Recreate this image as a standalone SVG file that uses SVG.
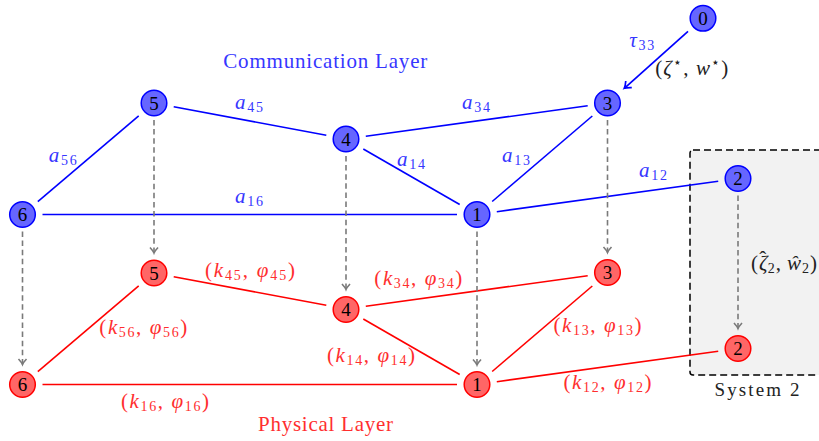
<svg xmlns="http://www.w3.org/2000/svg" width="819" height="441" viewBox="0 0 819 441">
<defs>
<style>
.t{font-family:"Liberation Serif","DejaVu Serif",serif;font-size:21px;text-anchor:middle}
.i{font-style:italic}
.s{font-size:14px;font-style:normal}
.bl{fill:#3636ff}
.rl{fill:#ff2e2e}
.k{fill:#222}
.eb{stroke:#0000ff;stroke-width:1.6;fill:none}
.er{stroke:#ff0000;stroke-width:1.6;fill:none}
.g{stroke:#7a7a7a;stroke-width:1.6;stroke-dasharray:5.5 3.6;fill:none;marker-end:url(#ag)}
.nb{fill:#6666ff;stroke:#0000ff;stroke-width:1.5}
.nr{fill:#ff6666;stroke:#ff0000;stroke-width:1.5}
.n{font-family:"Liberation Serif","DejaVu Serif",serif;font-size:19px;text-anchor:middle;fill:#000}
</style>
<marker id="ag" markerUnits="userSpaceOnUse" markerWidth="14" markerHeight="14" viewBox="-7 -7 14 14" refX="0" refY="0" orient="auto">
<path d="M-5.5,-4 Q-2,-0.8 0,0 Q-2,0.8 -5.5,4" fill="none" stroke="#7a7a7a" stroke-width="1.6"/>
</marker>
<marker id="ab" markerUnits="userSpaceOnUse" markerWidth="14" markerHeight="14" viewBox="-7 -7 14 14" refX="0" refY="0" orient="auto">
<path d="M-6,-4.5 Q-2.2,-0.9 0,0 Q-2.2,0.9 -6,4.5" fill="none" stroke="#0000ff" stroke-width="1.7"/>
</marker>
</defs>
<rect id="system2" x="690" y="150" width="140" height="225" rx="3" fill="#f2f2f2" stroke="#000" stroke-width="1.5" stroke-dasharray="7 4"/>
<g id="connectors">
<line class="eb" x1="37.8" y1="201.6" x2="138.7" y2="115.9"/>
<line class="eb" x1="173.7" y1="106.7" x2="326.3" y2="135.3"/>
<line class="eb" x1="42.5" y1="214.5" x2="457" y2="214.5"/>
<line class="eb" x1="363.3" y1="149" x2="459.7" y2="204.5"/>
<line class="eb" x1="365.8" y1="136.3" x2="587.7" y2="105.7"/>
<line class="eb" x1="492.2" y1="201.5" x2="592.3" y2="116"/>
<line class="eb" x1="496.8" y1="211.7" x2="718.2" y2="181.3"/>
<line class="er" x1="37.8" y1="371.6" x2="138.7" y2="285.9"/>
<line class="er" x1="173.7" y1="276.7" x2="326.3" y2="305.3"/>
<line class="er" x1="42.5" y1="384.5" x2="457" y2="384.5"/>
<line class="er" x1="363.3" y1="319" x2="459.7" y2="374.5"/>
<line class="er" x1="365.8" y1="306.3" x2="587.7" y2="275.7"/>
<line class="er" x1="492.2" y1="371.5" x2="592.3" y2="286"/>
<line class="er" x1="496.8" y1="381.7" x2="718.2" y2="351.3"/>
<line class="g" x1="22.5" y1="231.5" x2="22.5" y2="364.5"/>
<line class="g" x1="154" y1="120" x2="154" y2="253"/>
<line class="g" x1="346" y1="156" x2="346" y2="289.5"/>
<line class="g" x1="477" y1="231.5" x2="477" y2="365"/>
<line class="g" x1="607.5" y1="120" x2="607.5" y2="252.5"/>
<line class="g" x1="738" y1="195.5" x2="738" y2="328.5"/>
<line x1="688" y1="31.3" x2="624.3" y2="88.3" stroke="#0000ff" stroke-width="1.7" marker-end="url(#ab)"/>
</g>
<g id="labels" font-family="Liberation Serif, DejaVu Serif, serif">
<text class="t bl" x="325.3" y="68" textLength="204" lengthAdjust="spacing">Communication Layer</text>
<text class="t rl" x="325.5" y="431" textLength="135" lengthAdjust="spacing">Physical Layer</text>
<text class="t k" x="757" y="396" style="font-size:19px" textLength="85" lengthAdjust="spacing">System 2</text>
<text class="t bl" x="62.7" y="162" textLength="28" lengthAdjust="spacing"><tspan class="i">a</tspan><tspan class="s" dy="3">56</tspan></text>
<text class="t bl" x="249" y="109" textLength="28" lengthAdjust="spacing"><tspan class="i">a</tspan><tspan class="s" dy="3">45</tspan></text>
<text class="t bl" x="249" y="203" textLength="28" lengthAdjust="spacing"><tspan class="i">a</tspan><tspan class="s" dy="3">16</tspan></text>
<text class="t bl" x="476" y="109" textLength="28" lengthAdjust="spacing"><tspan class="i">a</tspan><tspan class="s" dy="3">34</tspan></text>
<text class="t bl" x="411" y="166" textLength="28" lengthAdjust="spacing"><tspan class="i">a</tspan><tspan class="s" dy="3">14</tspan></text>
<text class="t bl" x="516" y="162" textLength="28" lengthAdjust="spacing"><tspan class="i">a</tspan><tspan class="s" dy="3">13</tspan></text>
<text class="t bl" x="653" y="177" textLength="28" lengthAdjust="spacing"><tspan class="i">a</tspan><tspan class="s" dy="3">12</tspan></text>
<text class="t bl" x="641.7" y="47" textLength="25" lengthAdjust="spacing"><tspan class="i">τ</tspan><tspan class="s" dy="3">33</tspan></text>
<text class="t k" x="691.7" y="75" textLength="73" lengthAdjust="spacing">(<tspan class="i">ζ</tspan><tspan class="s" dy="-8">⋆</tspan><tspan dy="8">, </tspan><tspan class="i">w</tspan><tspan class="s" dy="-8">⋆</tspan><tspan dy="8">)</tspan></text>
<text class="t k" x="784" y="270">(<tspan class="i" dx="1">ζ</tspan><tspan dx="-8.5" dy="-4.5">ˆ</tspan><tspan class="s" dx="1.5" dy="7.5">2</tspan><tspan dx="1" dy="-3">,</tspan><tspan class="i" dx="6">ŵ</tspan><tspan class="s" dx="1" dy="3">2</tspan><tspan dx="1" dy="-3">)</tspan></text>
<text class="t rl" x="250" y="277" textLength="90" lengthAdjust="spacing">(<tspan class="i">k</tspan><tspan class="s" dy="3">45</tspan><tspan dy="-3">, </tspan><tspan class="i">φ</tspan><tspan class="s" dy="3">45</tspan><tspan dy="-3">)</tspan></text>
<text class="t rl" x="143.3" y="334" textLength="88" lengthAdjust="spacing">(<tspan class="i">k</tspan><tspan class="s" dy="3">56</tspan><tspan dy="-3">, </tspan><tspan class="i">φ</tspan><tspan class="s" dy="3">56</tspan><tspan dy="-3">)</tspan></text>
<text class="t rl" x="165" y="408" textLength="88" lengthAdjust="spacing">(<tspan class="i">k</tspan><tspan class="s" dy="3">16</tspan><tspan dy="-3">, </tspan><tspan class="i">φ</tspan><tspan class="s" dy="3">16</tspan><tspan dy="-3">)</tspan></text>
<text class="t rl" x="371" y="362" textLength="88" lengthAdjust="spacing">(<tspan class="i">k</tspan><tspan class="s" dy="3">14</tspan><tspan dy="-3">, </tspan><tspan class="i">φ</tspan><tspan class="s" dy="3">14</tspan><tspan dy="-3">)</tspan></text>
<text class="t rl" x="418.3" y="285" textLength="88" lengthAdjust="spacing">(<tspan class="i">k</tspan><tspan class="s" dy="3">34</tspan><tspan dy="-3">, </tspan><tspan class="i">φ</tspan><tspan class="s" dy="3">34</tspan><tspan dy="-3">)</tspan></text>
<text class="t rl" x="597.5" y="332" textLength="88" lengthAdjust="spacing">(<tspan class="i">k</tspan><tspan class="s" dy="3">13</tspan><tspan dy="-3">, </tspan><tspan class="i">φ</tspan><tspan class="s" dy="3">13</tspan><tspan dy="-3">)</tspan></text>
<text class="t rl" x="607.5" y="389" textLength="88" lengthAdjust="spacing">(<tspan class="i">k</tspan><tspan class="s" dy="3">12</tspan><tspan dy="-3">, </tspan><tspan class="i">φ</tspan><tspan class="s" dy="3">12</tspan><tspan dy="-3">)</tspan></text>
</g>
<g id="node-b0"><circle class="nb" cx="703" cy="18.3" r="12.8"/><text class="n" x="703" y="24.8">0</text></g>
<g id="node-b1"><circle class="nb" cx="477" cy="214.5" r="12.8"/><text class="n" x="477" y="221">1</text></g>
<g id="node-b2"><circle class="nb" cx="738" cy="178.5" r="12.8"/><text class="n" x="738" y="185">2</text></g>
<g id="node-b3"><circle class="nb" cx="607.5" cy="103" r="12.8"/><text class="n" x="607.5" y="109.5">3</text></g>
<g id="node-b4"><circle class="nb" cx="346" cy="139" r="12.8"/><text class="n" x="346" y="145.5">4</text></g>
<g id="node-b5"><circle class="nb" cx="154" cy="103" r="12.8"/><text class="n" x="154" y="109.5">5</text></g>
<g id="node-b6"><circle class="nb" cx="22.5" cy="214.5" r="12.8"/><text class="n" x="22.5" y="221">6</text></g>
<g id="node-r1"><circle class="nr" cx="477" cy="384.5" r="12.8"/><text class="n" x="477" y="391">1</text></g>
<g id="node-r2"><circle class="nr" cx="738" cy="348.5" r="12.8"/><text class="n" x="738" y="355">2</text></g>
<g id="node-r3"><circle class="nr" cx="607.5" cy="272.5" r="12.8"/><text class="n" x="607.5" y="279">3</text></g>
<g id="node-r4"><circle class="nr" cx="346" cy="309.5" r="12.8"/><text class="n" x="346" y="316">4</text></g>
<g id="node-r5"><circle class="nr" cx="154" cy="273" r="12.8"/><text class="n" x="154" y="279.5">5</text></g>
<g id="node-r6"><circle class="nr" cx="22.5" cy="384.5" r="12.8"/><text class="n" x="22.5" y="391">6</text></g>
</svg>
